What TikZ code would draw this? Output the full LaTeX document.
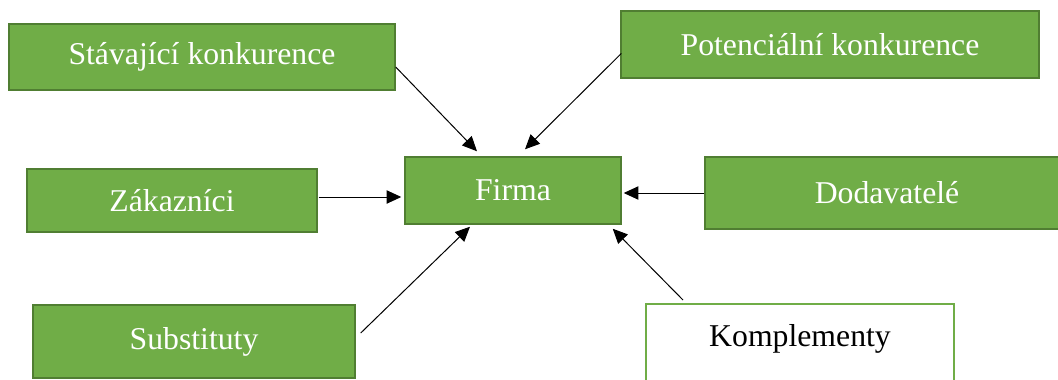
\documentclass[tikz,border=0pt]{standalone}
\usepackage{fontspec}
\setmainfont{Liberation Serif}
\usetikzlibrary{calc,arrows.meta}
\definecolor{zelena}{HTML}{70AD47}
\definecolor{tmavozelena}{HTML}{507E32}
\begin{document}
\begin{tikzpicture}[x=0.75pt,y=-0.75pt,
  blok/.style={draw=tmavozelena,fill=zelena,line width=1.1pt,text=white,
    inner sep=0pt,font=\fontsize{23.8}{28}\selectfont},
  sipka/.style={-{Triangle[length=11pt,width=10pt]},line width=0.75pt}]
\useasboundingbox (0,0) rectangle (1058,379);%
\clip (0,0) rectangle (1058,379);%
\node[blok,minimum width=289.5pt,minimum height=49.5pt] (sk) at (202,57) {Stávající konkurence};%
\node[blok,minimum width=313.5pt,minimum height=50.25pt] (pk) at (830,44.5) {Potenciální konkurence};%
\node[blok,minimum width=162pt,minimum height=50.25pt] (firma) at (513,190.5) {Firma};%
\node[blok,minimum width=217.5pt,minimum height=47.25pt] (zak) at (172,200.5) {Zákazníci};%
\node[blok,minimum width=273pt,minimum height=54pt] (dod) at (887,193) {Dodavatelé};%
\node[blok,minimum width=241.5pt,minimum height=54.75pt] (sub) at (194,341.5) {Substituty};%
\node[blok,draw=zelena,line width=1.6pt,fill=white,text=black,anchor=north,minimum width=231pt,
  text height=31.5pt,text depth=45pt] (kom) at (800,303) {Komplementy};%
\begin{scope}[sipka]
\draw ($(sk.east)+(0,10)$) -- ($(firma.north)+(-36,-5)$);%
\draw ($(pk.west)+(1,9)$) -- ($(firma.north)+(12,-7)$);%
\draw ($(zak.east)+(1,-3.5)$) -- ($(firma.west)+(-3,6.5)$);%
\draw ($(dod.west)+(0,0)$) -- ($(firma.east)+(2,2.5)$);%
\draw ($(sub.east)+(5,-8.5)$) -- ($(firma.south)+(-43,2)$);%
\draw ($(kom.north)+(-117,-3)$) -- ($(firma.south east)+(-9,4)$);%
\end{scope}
\end{tikzpicture}
\end{document}
